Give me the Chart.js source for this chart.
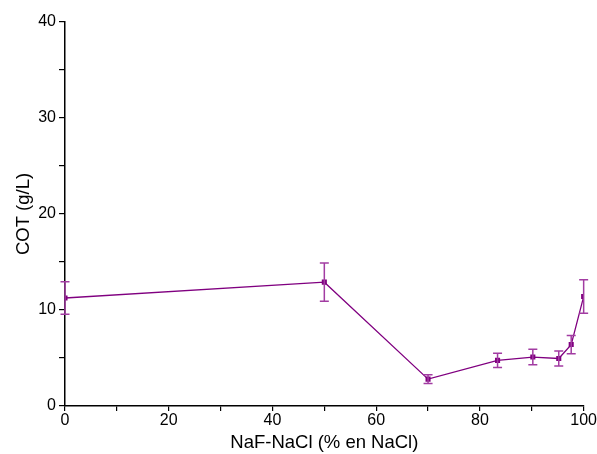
<!DOCTYPE html>
<html>
<head>
<meta charset="utf-8">
<script src="https://cdn.jsdelivr.net/npm/chart.js@4/dist/chart.umd.min.js"></script>
<style>
    html, body { margin: 0; padding: 0; background: #fff; }
    #chart { display: block; }
</style>
</head>
<body>
<canvas id="chart" width="597" height="454"></canvas>
<script>
// NaCl content (% en NaCl) and COT values with error bars
const nacl = [0, 50, 70, 83.4, 90.2, 95.2, 97.6, 100];
const cot = [11.25, 12.9, 2.8, 4.75, 5.1, 4.95, 6.4, 11.4];
const cotErr = [1.7, 2.0, 0.45, 0.75, 0.8, 0.78, 0.95, 1.75];

const xTicks = [0, 20, 40, 60, 80, 100];
const yTicks = [0, 10, 20, 30, 40];

const lineColor = '#800080';
const errColor = '#a23ca2';

// error bars drawn through the chart scales
const errorBars = {
    id: 'errorBars',
    afterDatasetsDraw(chart) {
        const ctx = chart.ctx;
        const xs = chart.scales.x;
        const ys = chart.scales.y;
        ctx.save();
        ctx.strokeStyle = errColor;
        ctx.lineWidth = 1.5;
        nacl.forEach((x, i) => {
            const px = xs.getPixelForValue(x);
            const top = ys.getPixelForValue(cot[i] + cotErr[i]);
            const bot = ys.getPixelForValue(cot[i] - cotErr[i]);
            ctx.beginPath();
            ctx.moveTo(px, top);
            ctx.lineTo(px, bot);
            ctx.moveTo(px - 4.5, top);
            ctx.lineTo(px + 4.5, top);
            ctx.moveTo(px - 4.5, bot);
            ctx.lineTo(px + 4.5, bot);
            ctx.stroke();
        });
        ctx.restore();
    }
};

Chart.defaults.font.family = '"Liberation Sans", Arial, sans-serif';
Chart.defaults.color = '#000';

new Chart(document.getElementById('chart'), {
    type: 'scatter',
    data: {
        datasets: [{
            data: nacl.map((x, i) => ({ x: x, y: cot[i] })),
            showLine: true,
            borderColor: lineColor,
            backgroundColor: lineColor,
            borderWidth: 1.3,
            pointStyle: 'rect',
            pointRadius: 3.6,
            pointBorderWidth: 0
        }]
    },
    options: {
        responsive: false,
        animation: false,
        layout: { padding: { top: 22, right: 11, left: 13, bottom: 0 } },
        plugins: {
            legend: { display: false },
            tooltip: { enabled: false }
        },
        scales: {
            x: {
                type: 'linear',
                min: 0,
                max: 100,
                border: { display: true, color: '#000', width: 1.5 },
                grid: { drawOnChartArea: false, drawTicks: true, tickLength: 5, color: '#000', lineWidth: 1.2 },
                ticks: {
                    stepSize: 10,
                    autoSkip: false,
                    maxRotation: 0,
                    padding: 0,
                    font: { size: 16 },
                    callback: v => xTicks.includes(v) ? String(v) : ''
                },
                title: {
                    display: true,
                    text: 'NaF-NaCl (% en NaCl)',
                    font: { size: 18.5 },
                    padding: { top: 3, bottom: 0 }
                },
                afterFit: s => { s.height = 48; }
            },
            y: {
                min: 0,
                max: 40,
                border: { display: true, color: '#000', width: 1.5 },
                grid: { drawOnChartArea: false, drawTicks: true, tickLength: 6, color: '#000', lineWidth: 1.2 },
                ticks: {
                    stepSize: 5,
                    autoSkip: false,
                    padding: 3,
                    font: { size: 16 },
                    callback: v => yTicks.includes(v) ? String(v) : ''
                },
                title: {
                    display: true,
                    text: 'COT (g/L)',
                    font: { size: 18.5 },
                    padding: { top: 0, bottom: 4 }
                },
                afterFit: s => { s.width = 52; }
            }
        }
    },
    plugins: [errorBars]
});
</script>
</body>
</html>
